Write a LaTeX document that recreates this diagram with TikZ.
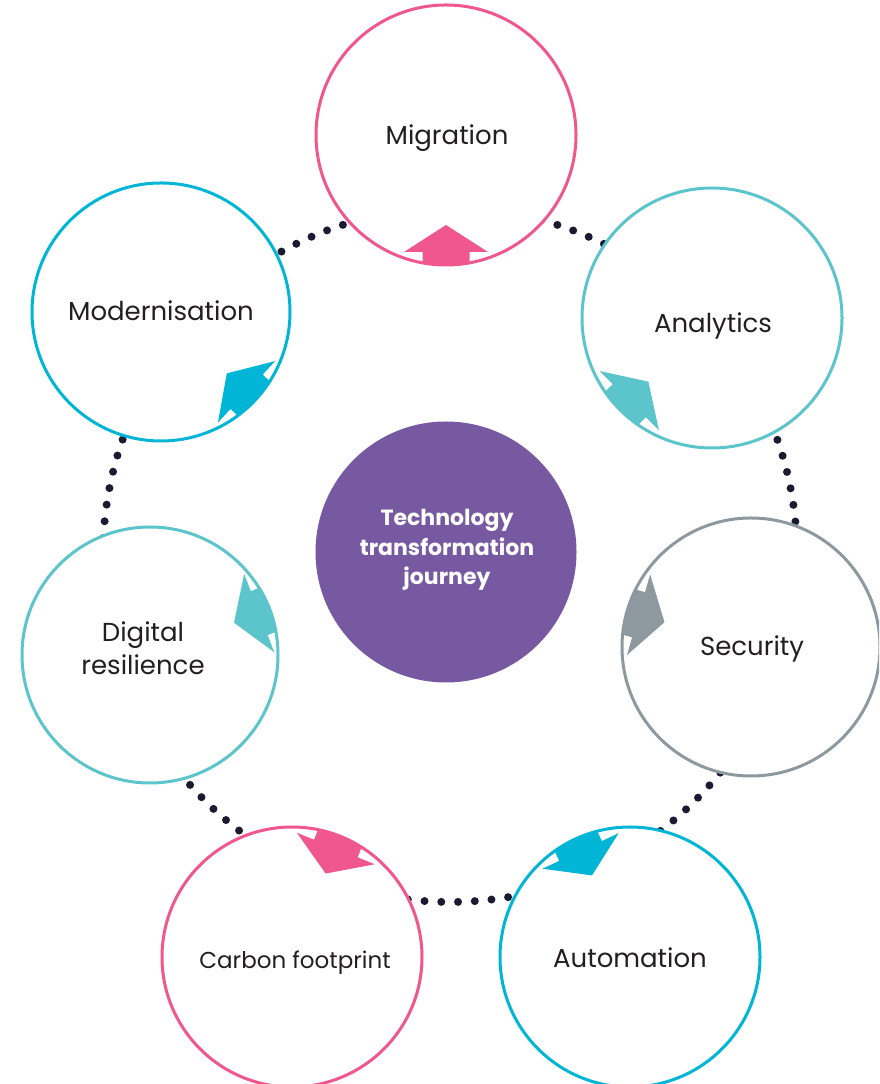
\documentclass[tikz,border=0pt]{standalone}
\usepackage{fontspec}
\setmainfont{Poppins}
\definecolor{pinkc}{HTML}{F0578C}
\definecolor{cyanc}{HTML}{00B5D6}
\definecolor{tealc}{HTML}{5BC5CB}
\definecolor{greyc}{HTML}{8E999F}
\definecolor{purplec}{HTML}{7759A2}
\definecolor{dotc}{HTML}{1A1A33}
\definecolor{textc}{HTML}{231F20}
\tikzset{
  ring/.style={draw=dotc, line width=8pt, line cap=round, dash pattern=on 0pt off 16.77pt},
  bub/.style={circle, fill=white, line width=3pt, minimum size=260pt, inner sep=0pt},
  lbl/.style={align=center, inner sep=0pt, font=\fontsize{26}{33}\selectfont, text=textc},
  hub/.style={circle, fill=purplec, minimum size=261pt, inner sep=0pt},
  hublbl/.style={align=center, inner sep=0pt, font=\fontsize{22}{29.5}\selectfont\bfseries, text=white}
}
\newcommand\arrowmark[3]{%
  \begin{scope}
    \clip (#1.center) circle[radius=129.5pt];
    \fill[#3, shift={(#1.center)}, rotate=#2] (90,0) -- (117,42) -- (117,23.5) -- (150,23.5)
      -- (150,-23.5) -- (117,-23.5) -- (117,-42) -- cycle;
  \end{scope}}
\begin{document}
\begin{tikzpicture}[x=1pt,y=1pt]
\useasboundingbox (0,0) rectangle (879,1084);
\clip (0,0) rectangle (879,1084);
\coordinate (ringc) at (450,529);
\draw[ring] (ringc) circle[radius=347];
\node[hub] (hub) at (446,532) {};
\node[hublbl] (hubt) at (447,534) {Technology\\transformation\\journey};
\node[bub, draw=pinkc] (mig) at (446,949) {};
\node[bub, draw=tealc] (ana) at (712,766) {};
\node[bub, draw=greyc, minimum size=258pt] (sec) at (751,437) {};
\node[bub, draw=cyanc] (aut) at (630,127) {};
\node[bub, draw=pinkc] (car) at (292,127) {};
\node[bub, draw=tealc, minimum size=256pt] (dig) at (150,429) {};
\node[bub, draw=cyanc, minimum size=258pt] (mod) at (161,772) {};
\node[lbl] (migt) at (447,946) {Migration};
\node[lbl] (anat) at (713,758) {Analytics};
\node[lbl] (sect) at (752,435) {Security};
\node[lbl] (autt) at (630,126) {Automation};
\node[lbl, font=\fontsize{23}{30}\selectfont] (cart) at (295,121) {Carbon footprint};
\node[lbl] (digt) at (143,436) {Digital\\resilience};
\node[lbl] (modt) at (161,773) {Modernisation};
\arrowmark{mig}{270}{pinkc}
\arrowmark{ana}{225}{tealc}
\arrowmark{sec}{164}{greyc}
\arrowmark{aut}{115}{cyanc}
\arrowmark{car}{68}{pinkc}
\arrowmark{dig}{21}{tealc}
\arrowmark{mod}{-43}{cyanc}
\end{tikzpicture}
\end{document}
